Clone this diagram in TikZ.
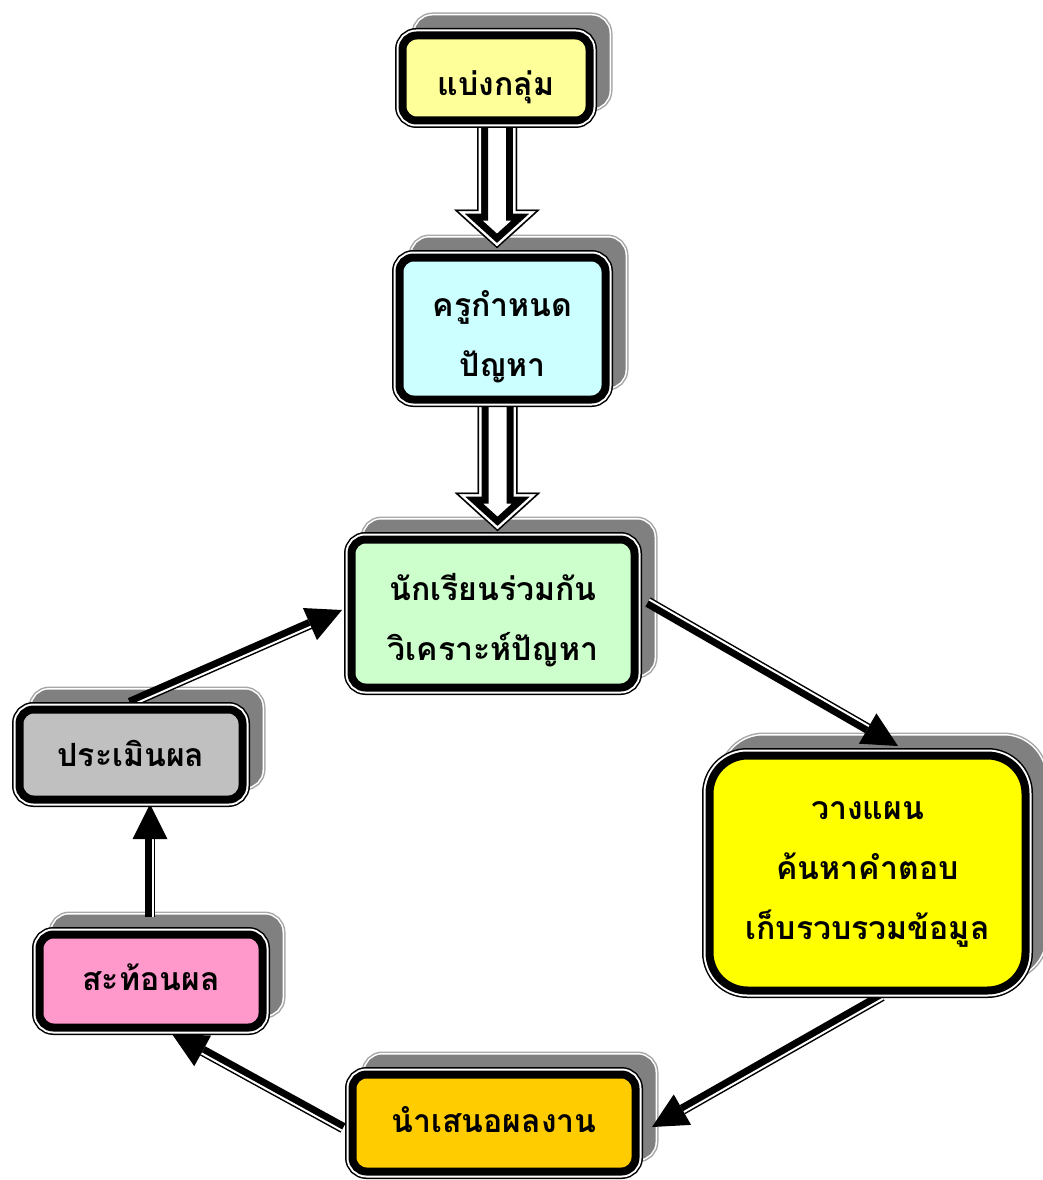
\documentclass[tikz,border=0pt]{standalone}
\usepackage{fontspec}
\newfontfamily\thaifont[Script=Thai]{Loma}
\usetikzlibrary{calc}
\pgfdeclarelayer{shad}
\pgfdeclarelayer{arr}
\pgfsetlayers{shad,arr,main}
\definecolor{cA}{HTML}{FFFF99}
\definecolor{cB}{HTML}{CCFFFF}
\definecolor{cC}{HTML}{CCFFCC}
\definecolor{cD}{HTML}{FFFF00}
\definecolor{cE}{HTML}{FFCC00}
\definecolor{cF}{HTML}{FF99CC}
\definecolor{cG}{HTML}{C0C0C0}
\definecolor{shadowgray}{HTML}{808080}
\definecolor{shadowline}{HTML}{A8A8A8}
\tikzset{
  box/.style={rectangle, rounded corners=14pt, draw=black, line width=8pt,
    inner sep=0pt, outer sep=0pt, align=center,
    font=\thaifont\bfseries\fontsize{32}{60}\selectfont,
    preaction={draw=black, line width=15pt},
    preaction={draw=white, line width=12pt}},
  shadowst/.style={rounded corners=14pt, fill=shadowgray, draw=shadowgray, line width=8pt,
    preaction={draw=shadowline, line width=14pt},
    preaction={draw=white, line width=11pt}},
}
\newcommand\lines[2]{\raisebox{#1}[\height][\depth]{\begin{tabular}{@{}c@{}}#2\end{tabular}}}
\newcommand\shadowof[2][14pt]{%
  \path[shadowst, rounded corners=#1] ([shift={(16,-16)}]#2.south west) rectangle ([shift={(16,-16)}]#2.north east);}
% double-line arrow: start, end, angle, -angle
\newcommand\dlarrow[4]{%
  \coordinate (hb) at ($(#2)!35pt!(#1)$);
  \draw[line width=10.5pt] (#1) -- (hb);
  \draw[white, line width=2pt] ($(#1)!2.75pt!#3:(hb)$) -- ($(hb)!2.75pt!#4:(#1)$);
  \fill (#2) -- ($(hb)!17.5pt!90:(#2)$) -- ($(hb)!17.5pt!-90:(#2)$) -- cycle;}
% hollow block arrow: top (inside source), tip
\newcommand\holarrow[2]{%
  \path let \p1=(#1), \p2=(#2) in
    coordinate (q1) at (\x2-20pt,\y1)
    coordinate (q2) at (\x2+20pt,\y1)
    coordinate (q3) at (\x2+20pt,\y2+39pt)
    coordinate (q4) at (\x2+43pt,\y2+39pt)
    coordinate (q5) at (\x2,\y2)
    coordinate (q6) at (\x2-43pt,\y2+39pt)
    coordinate (q7) at (\x2-20pt,\y2+39pt);
  \begin{scope}
    \clip (q1)--(q2)--(q3)--(q4)--(q5)--(q6)--(q7)--cycle;
    \fill[white] (q1)--(q2)--(q3)--(q4)--(q5)--(q6)--(q7)--cycle;
    \draw[line width=22pt, line join=miter] (q1)--(q2)--(q3)--(q4)--(q5)--(q6)--(q7)--cycle;
    \draw[white, line width=8pt, line join=miter] (q1)--(q2)--(q3)--(q4)--(q5)--(q6)--(q7)--cycle;
    \draw[line width=3pt, line join=miter] (q1)--(q2)--(q3)--(q4)--(q5)--(q6)--(q7)--cycle;
  \end{scope}}
\begin{document}
\begin{tikzpicture}[x=1pt, y=-1pt]
\useasboundingbox (0,0) rectangle (1043,1180);
% boxes
\node[box, fill=cA, minimum width=187pt, minimum height=85pt] (b1) at (496,78) {\lines{-6pt}{แบ่งกลุ่ม}};
\node[box, fill=cB, minimum width=206pt, minimum height=142pt] (b2) at (502.5,328.5) {\lines{-6pt}{ครูกำหนด\\ปัญหา}};
\node[box, fill=cC, minimum width=283pt, minimum height=148pt] (b3) at (493,613.5) {\lines{-5pt}{นักเรียนร่วมกัน\\วิเคราะห์ปัญหา}};
\node[box, fill=cD, rounded corners=38pt, minimum width=316pt, minimum height=235pt] (b4) at (867.5,873) {\lines{6pt}{วางแผน\\ค้นหาคำตอบ\\เก็บรวบรวมข้อมูล}};
\node[box, fill=cE, minimum width=283pt, minimum height=97pt] (b5) at (494,1123) {\lines{3pt}{นำเสนอผลงาน}};
\node[box, fill=cF, minimum width=223pt, minimum height=93pt] (b6) at (151,981) {\lines{3pt}{สะท้อนผล}};
\node[box, fill=cG, minimum width=223pt, minimum height=90pt] (b7) at (131,754.5) {\lines{0pt}{ประเมินผล}};
% shadows
\begin{pgfonlayer}{shad}
  \shadowof{b1}\shadowof{b2}\shadowof{b3}\shadowof[38pt]{b4}
  \shadowof{b5}\shadowof{b6}\shadowof{b7}
\end{pgfonlayer}
% connectors
\coordinate (a1s) at ($(b1.south)+(1,-6)$);
\coordinate (a1e) at ($(b2.north)+(-5.5,-9)$);
\coordinate (a2s) at ($(b2.south)+(-5.5,-6)$);
\coordinate (a2e) at ($(b3.north)+(4.5,-8)$);
\coordinate (a3s) at (648,602);
\coordinate (a3e) at (898,746);
\coordinate (a4s) at (882,996);
\coordinate (a4e) at (652,1127);
\coordinate (a5s) at (343,1128);
\coordinate (a5e) at (172,1034);
\coordinate (a6s) at (150,917);
\coordinate (a6e) at (150,804);
\coordinate (a7s) at (130,703);
\coordinate (a7e) at (342,610);
\begin{pgfonlayer}{arr}
  \holarrow{a1s}{a1e}
  \holarrow{a2s}{a2e}
  \dlarrow{a3s}{a3e}{90}{-90}
  \dlarrow{a4s}{a4e}{90}{-90}
  \dlarrow{a5s}{a5e}{90}{-90}
  \dlarrow{a6s}{a6e}{-90}{90}
  \dlarrow{a7s}{a7e}{-90}{90}
\end{pgfonlayer}
\end{tikzpicture}
\end{document}
